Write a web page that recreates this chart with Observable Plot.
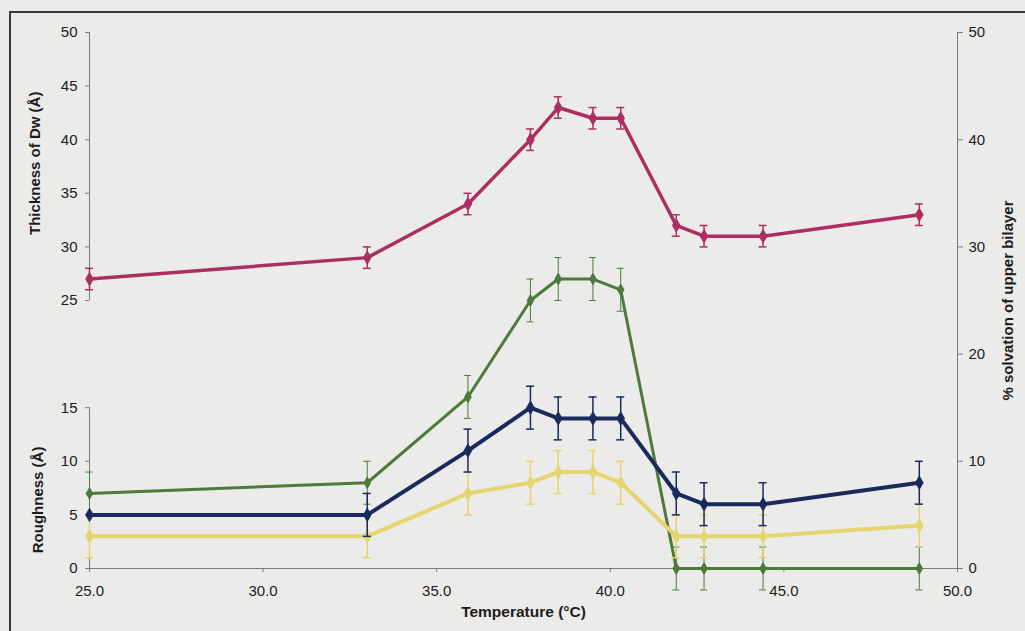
<!DOCTYPE html>
<html><head><meta charset="utf-8">
<script src="https://cdn.jsdelivr.net/npm/d3@7"></script>
<script src="https://cdn.jsdelivr.net/npm/@observablehq/plot@0.6"></script>
<style>
html,body{margin:0;padding:0;background:#ebebea;}
#wrap{position:relative;width:1025px;height:631px;overflow:hidden;}
#border{position:absolute;left:9px;top:11px;width:1100px;height:700px;border-left:2px solid #3a3a3a;border-top:2px solid #3a3a3a;pointer-events:none;}
</style></head><body><div id="wrap"><div id="border"></div></div>
<script>
// Temperature (°C)
const temperature = [25.0, 33.0, 35.9, 37.7, 38.5, 39.5, 40.3, 41.9, 42.7, 44.4, 48.9];
// Thickness of Dw (Å)
const thickness    = [27, 29, 34, 40, 43, 42, 42, 32, 31, 31, 33];
const thicknessErr = [1, 1, 1, 1, 1, 1, 1, 1, 1, 1, 1];
// % solvation of upper bilayer (right axis)
const solvation    = [7, 8, 16, 25, 27, 27, 26, 0, 0, 0, 0];
const solvationErr = [2, 2, 2, 2, 2, 2, 2, 2, 2, 2, 2];
// Roughness (Å) - navy series
const roughnessA    = [5, 5, 11, 15, 14, 14, 14, 7, 6, 6, 8];
const roughnessAErr = [0, 2, 2, 2, 2, 2, 2, 2, 2, 2, 2];
// Roughness (Å) - yellow series
const roughnessB    = [3, 3, 7, 8, 9, 9, 8, 3, 3, 3, 4];
const roughnessBErr = [2, 2, 2, 2, 2, 2, 2, 2, 2, 2, 2];

const xTicks = [25, 30, 35, 40, 45, 50];
const yLeftTicksLow = [0, 5, 10, 15];
const yLeftTicksHigh = [25, 30, 35, 40, 45, 50];
const yRightTicks = [0, 10, 20, 30, 40, 50];

const C = {pink: "#ad2f61", navy: "#1b2a5c", green: "#4d7a3c", yellow: "#e6d56e", axis: "#7a7a7a", text: "#1c1c1c"};

function rows(vals, errs) {
  return temperature.map((t, i) => ({t, v: vals[i], e: errs[i], lo: vals[i] - errs[i], hi: vals[i] + errs[i]}));
}
const sThick = rows(thickness, thicknessErr);
const sSolv = rows(solvation, solvationErr);
const sA = rows(roughnessA, roughnessAErr);
const sB = rows(roughnessB, roughnessBErr);

function series(data, color, lw, ew, cap, r) {
  const eb = data.filter(d => d.e > 0);
  return [
    Plot.ruleX(eb, {x: "t", y1: "lo", y2: "hi", stroke: color, strokeWidth: ew}),
    Plot.ruleY(eb, {x1: "t", x2: "t", y: "lo", insetLeft: -cap, insetRight: -cap, stroke: color, strokeWidth: ew}),
    Plot.ruleY(eb, {x1: "t", x2: "t", y: "hi", insetLeft: -cap, insetRight: -cap, stroke: color, strokeWidth: ew}),
    Plot.line(data, {x: "t", y: "v", stroke: color, strokeWidth: lw}),
    Plot.dot(data, {x: "t", y: "v", fill: color, stroke: color, strokeWidth: 1, symbol: "diamond", r: r})
  ];
}

const axisSegments = [{a: yLeftTicksLow[0], b: yLeftTicksLow[yLeftTicksLow.length - 1]}, {a: yLeftTicksHigh[0], b: yLeftTicksHigh[yLeftTicksHigh.length - 1]}];

const chart = Plot.plot({
  width: 1025, height: 631,
  marginLeft: 89, marginRight: 68, marginTop: 32, marginBottom: 63,
  x: {domain: [xTicks[0], xTicks[xTicks.length - 1]]},
  y: {domain: [0, 50]},
  style: {background: "transparent", fontFamily: "'Liberation Sans', Arial, sans-serif", fontSize: "15px", color: C.text},
  marks: [
    Plot.ruleY([0], {stroke: C.axis}),
    Plot.ruleX(axisSegments, {x: xTicks[0], y1: "a", y2: "b", stroke: C.axis}),
    Plot.ruleX([xTicks[xTicks.length - 1]], {stroke: C.axis}),
    Plot.axisX({ticks: xTicks, tickFormat: d => d.toFixed(1), tickSize: 4, tickPadding: 13, stroke: C.axis, fill: C.text, label: null}),
    Plot.axisY({anchor: "left", ticks: yLeftTicksLow.concat(yLeftTicksHigh), tickFormat: d => String(d), tickSize: 4, tickPadding: 8, stroke: C.axis, fill: C.text, label: null}),
    Plot.axisY({anchor: "right", ticks: yRightTicks, tickFormat: d => String(d), tickSize: 5, tickPadding: 6, stroke: C.axis, fill: C.text, label: null}),
    ...series(sSolv, C.green, 3, 1, 3.5, 3.5),
    ...series(sB, C.yellow, 4, 1.5, 4, 4),
    ...series(sA, C.navy, 4, 1.5, 4, 4),
    ...series(sThick, C.pink, 3.5, 1.5, 4, 4),
    Plot.text(["Thickness of Dw (Å)"], {frameAnchor: "left", y: 37.8, dx: -54, rotate: -90, textAnchor: "middle", fontWeight: "bold", fontSize: 15, fill: C.text}),
    Plot.text(["Roughness (Å)"], {frameAnchor: "left", y: 6.4, dx: -51, rotate: -90, textAnchor: "middle", fontWeight: "bold", fontSize: 15, fill: C.text}),
    Plot.text(["% solvation of upper bilayer"], {frameAnchor: "right", y: 25, dx: 51, rotate: -90, textAnchor: "middle", fontWeight: "bold", fontSize: 15, fill: C.text}),
    Plot.text(["Temperature (°C)"], {frameAnchor: "bottom", dy: 48, fontWeight: "bold", fontSize: 15.5, fill: C.text})
  ]
});
document.getElementById("wrap").appendChild(chart);
chart.style.position = "absolute";
chart.style.left = "0";
chart.style.top = "0";
</script>
</body></html>
